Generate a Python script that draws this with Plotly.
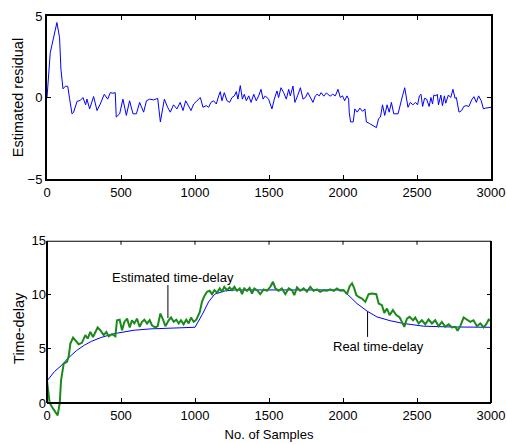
import plotly.graph_objects as go

# ---- Top panel: estimated residual ----
res_x = [0, 22, 67, 85, 94, 108, 124, 140, 153, 169, 180, 203, 225, 243, 261, 270, 288, 315, 338, 360,
         387, 410, 428, 445, 461, 468, 491, 513, 536, 558, 581, 604, 626, 653, 672, 694, 721, 748, 766, 793,
         815, 833, 855, 878, 900, 919, 937, 957, 973, 991, 1013, 1036, 1054, 1076, 1092, 1108, 1126, 1144, 1160, 1171,
         1182, 1198, 1216, 1234, 1250, 1266, 1279, 1290, 1306, 1320, 1333, 1347, 1363, 1379, 1397, 1414, 1430, 1446, 1460, 1475,
         1497, 1520, 1536, 1554, 1565, 1581, 1599, 1617, 1633, 1644, 1662, 1675, 1693, 1712, 1730, 1746, 1762, 1775, 1797, 1813,
         1825, 1840, 1852, 1870, 1888, 1913, 1930, 1948, 1966, 1982, 1997, 2011, 2027, 2038, 2042, 2051, 2069, 2080, 2096, 2114,
         2132, 2148, 2158, 2180, 2203, 2226, 2240, 2253, 2267, 2282, 2298, 2312, 2327, 2343, 2372, 2388, 2402, 2417, 2428, 2439,
         2455, 2472, 2490, 2504, 2516, 2527, 2538, 2551, 2565, 2582, 2594, 2605, 2614, 2628, 2637, 2645, 2661, 2672, 2685, 2694,
         2712, 2728, 2743, 2757, 2766, 2784, 2802, 2816, 2832, 2851, 2869, 2885, 2901, 2916, 2934, 2949, 2964, 3000]
res_y = [0.0, 2.75, 4.6, 3.66, 1.74, 0.53, 0.69, 0.69, -0.08, -1.0, -0.9, -0.24, -0.18, 0.0, -0.45, -0.1, -0.7, 0.06, -0.8, -0.4,
         0.2, -0.1, 0.3, 0.26, 0.3, -1.2, -1.0, -0.1, -1.1, -0.2, -1.0, -1.0, -0.3, -0.9, -0.2, -0.1, -0.15, -0.05, -1.5, -0.1,
         -0.6, -0.9, -0.45, -0.7, -0.3, -0.8, -0.2, -0.5, -0.8, -0.4, -0.2, 0.0, -0.6, -0.5, -0.6, -0.3, -0.2, -0.4, 0.1, 0.36,
         -0.2, 0.3, -0.2, -0.3, 0.0, 0.1, 0.36, -0.1, 0.73, -0.1, 0.2, -0.2, 0.1, -0.3, 0.2, -0.2, 0.1, 0.5, -0.1, 0.1,
         -0.1, -0.7, -0.1, 0.4, 0.0, 0.6, 0.3, -0.1, 0.5, 0.1, 0.7, -0.3, 0.1, 0.6, -0.1, 0.0, 0.3, 0.1, -0.3, 0.1,
         0.2, 0.1, 0.3, 0.08, 0.28, 0.08, 0.2, 0.1, 0.5, 0.0, 0.1, -0.2, 0.1, -0.1, -0.9, -1.5, -1.5, -0.7, -0.9, -0.65,
         -0.85, -0.7, -1.5, -1.6, -1.75, -1.85, -1.3, -1.2, -0.45, -1.1, -0.45, -0.9, -0.3, -1.0, -1.0, -0.3, 0.1, 0.6, 0.0, -0.6,
         -0.3, -0.45, -0.3, -0.45, 0.1, 0.2, -0.55, -0.05, -0.1, -0.55, 0.0, -0.4, 0.15, 0.1, 0.2, -0.45, 0.15, -0.5, 0.1, -0.35,
         0.15, 0.0, 0.5, -0.05, 0.0, -0.9, -0.8, -0.55, -0.5, -0.55, -0.15, 0.05, -0.3, 0.1, -0.2, -0.7, -0.65, -0.6]

# ---- Bottom panel: real time-delay ----
real_x = [0, 50, 100, 139, 200, 252, 300, 364, 450, 590, 700, 815, 1000, 1050, 1092, 1133, 1205, 1272,
          2000, 2049, 2094, 2162, 2229, 2320, 2410, 2545, 2725, 3000]
real_y = [2.04, 2.9, 3.5, 4.1, 4.85, 5.34, 5.7, 6.05, 6.4, 6.73, 6.85, 6.9, 7.0, 8.2, 9.35, 10.06, 10.37, 10.45,
          10.45, 9.8, 9.2, 8.5, 7.96, 7.6, 7.35, 7.1, 7.03, 7.0]

# ---- Bottom panel: estimated time-delay ----
est_x = [0, 18, 40, 72, 86, 95, 113, 135, 146, 158, 176, 198, 214, 236, 259, 275, 293, 311, 327, 342,
         360, 383, 401, 417, 439, 462, 473, 491, 507, 523, 541, 559, 574, 590, 608, 626, 642, 658, 676, 694,
         709, 732, 748, 766, 784, 800, 822, 838, 856, 874, 890, 905, 923, 941, 957, 973, 991, 1009, 1032, 1047,
         1063, 1081, 1099, 1115, 1131, 1149, 1167, 1182, 1198, 1216, 1234, 1250, 1266, 1284, 1302, 1318, 1333, 1351, 1369, 1385,
         1401, 1419, 1441, 1464, 1486, 1509, 1527, 1543, 1565, 1587, 1610, 1633, 1655, 1671, 1689, 1711, 1734, 1756, 1779, 1801,
         1824, 1846, 1869, 1892, 1914, 1937, 1959, 1982, 2004, 2027, 2045, 2061, 2076, 2090, 2106, 2128, 2151, 2173, 2196, 2225,
         2241, 2263, 2279, 2297, 2315, 2337, 2360, 2383, 2398, 2414, 2432, 2450, 2473, 2488, 2511, 2533, 2556, 2578, 2601, 2623,
         2646, 2668, 2691, 2714, 2736, 2759, 2774, 2792, 2815, 2837, 2860, 2882, 2905, 2928, 2950, 2968, 2984, 3000]
est_y = [2.04, 0.0, -0.5, -1.14, 0.0, 2.1, 3.64, 3.8, 4.26, 5.5, 6.05, 5.74, 5.43, 5.56, 6.27, 5.96, 6.57, 6.1, 6.57, 6.98,
         6.73, 6.27, 6.57, 6.17, 6.36, 6.17, 7.65, 7.7, 6.73, 7.5, 7.8, 6.98, 7.65, 7.35, 7.8, 7.04, 7.5, 7.7, 7.35, 7.65,
         7.19, 6.98, 7.1, 8.27, 7.7, 7.1, 7.65, 7.9, 7.5, 7.7, 7.35, 7.65, 7.28, 7.7, 7.35, 7.9, 7.5, 7.7, 8.4, 9.35,
         9.88, 10.28, 10.37, 10.06, 10.43, 10.19, 10.59, 10.28, 10.74, 10.43, 10.68, 10.43, 10.74, 10.37, 10.59, 10.06, 10.59, 10.37, 10.65, 10.12,
         10.59, 10.43, 10.06, 10.5, 10.37, 10.74, 11.2, 10.59, 10.37, 10.59, 10.06, 10.59, 10.43, 9.97, 10.68, 10.37, 10.59, 10.28, 10.74, 10.37,
         10.5, 10.28, 10.43, 10.37, 10.5, 10.37, 10.59, 10.37, 10.43, 10.06, 10.8, 11.05, 10.59, 9.97, 9.8, 9.66, 9.35, 10.06, 10.12, 10.06,
         9.2, 9.04, 8.33, 8.73, 8.12, 8.58, 8.12, 7.9, 7.5, 7.04, 7.8, 7.96, 7.65, 7.9, 7.35, 7.65, 7.28, 7.72, 7.35, 7.65,
         7.1, 7.5, 7.04, 7.28, 6.98, 7.04, 6.67, 7.1, 7.9, 7.72, 7.5, 7.65, 7.1, 7.35, 6.98, 7.28, 7.7, 7.59]

# annotation texts
label_est = "Estimated time-delay"
label_real = "Real time-delay"

FONT = "Liberation Sans, Arial, Helvetica, sans-serif"
Y2_MIN = -1.2
Y2_DOM_TOP = 0.43825
fig = go.Figure()

fig.add_trace(go.Scatter(x=res_x, y=res_y, mode="lines", line=dict(color="#0000ff", width=1),
                         xaxis="x", yaxis="y", showlegend=False))
fig.add_trace(go.Scatter(x=real_x, y=real_y, mode="lines", line=dict(color="#0000ff", width=1),
                         xaxis="x2", yaxis="y2", showlegend=False))
fig.add_trace(go.Scatter(x=est_x, y=est_y, mode="lines", line=dict(color="#1a8a1a", width=2),
                         xaxis="x2", yaxis="y2", showlegend=False))

axis_common = dict(showgrid=False, zeroline=False, ticks="inside", ticklen=4, tickwidth=1,
                   tickcolor="black", linecolor="black", linewidth=2, automargin=False,
                   tickfont=dict(family=FONT, size=13, color="black"))

fig.update_layout(
    width=507, height=444,
    margin=dict(l=47, r=16, t=16, b=28),
    paper_bgcolor="white", plot_bgcolor="white",
    font=dict(family=FONT, size=13, color="black"),
    xaxis=dict(domain=[0, 1], anchor="y", range=[0, 3000], tickvals=[0, 500, 1000, 1500, 2000, 2500, 3000],
               showline=True, mirror="ticks", **axis_common),
    yaxis=dict(domain=[0.5925, 1], anchor="x", range=[-5, 5], tickvals=[-5, 0, 5],
               showline=True, mirror="ticks",
               title=dict(text="Estimated residual", font=dict(family=FONT, size=14.5), standoff=0),
               **axis_common),
    xaxis2=dict(domain=[0, 1], anchor="free", position=(-Y2_MIN) / (15 - Y2_MIN) * Y2_DOM_TOP,
                range=[0, 3000], tickvals=[0, 500, 1000, 1500, 2000, 2500, 3000],
                showline=True, mirror=False,
                title=dict(text="No. of Samples", font=dict(family=FONT, size=13), standoff=7),
                **axis_common),
    yaxis2=dict(domain=[0, Y2_DOM_TOP], anchor="x2", range=[Y2_MIN, 15], tickvals=[0, 5, 10, 15],
                showline=False, mirror="ticks",
                title=dict(text="Time-delay", font=dict(family=FONT, size=14.5), standoff=3),
                **axis_common),
)

# frame of the bottom panel (left, right, top)
for xx in (0, 1):
    fig.add_shape(type="line", xref="x2 domain", yref="y2", x0=xx, x1=xx, y0=0, y1=15,
                  line=dict(color="black", width=2))
fig.add_shape(type="line", xref="x2 domain", yref="y2", x0=0, x1=1, y0=15, y1=15,
              line=dict(color="black", width=2))
# top ticks of the bottom panel
for tv in [500, 1000, 1500, 2000, 2500]:
    fig.add_shape(type="line", xref="x2", yref="y2", x0=tv, x1=tv, y0=15, y1=14.63,
                  line=dict(color="black", width=1))

# annotations with leader lines
fig.add_annotation(x=848, y=11.63, xref="x2", yref="y2", text=label_est, showarrow=False,
                   font=dict(family=FONT, size=13, color="black"))
fig.add_shape(type="line", xref="x2", yref="y2", x0=817, x1=817, y0=10.9, y1=7.84,
              line=dict(color="black", width=1))
fig.add_annotation(x=2239, y=5.19, xref="x2", yref="y2", text=label_real, showarrow=False,
                   font=dict(family=FONT, size=13, color="black"))
fig.add_shape(type="line", xref="x2", yref="y2", x0=2166, x1=2166, y0=8.43, y1=6.11,
              line=dict(color="black", width=1))

fig.write_html("out.html", config={"displayModeBar": False},
               post_script="document.body.style.margin='0px';document.body.style.overflow='hidden';")
